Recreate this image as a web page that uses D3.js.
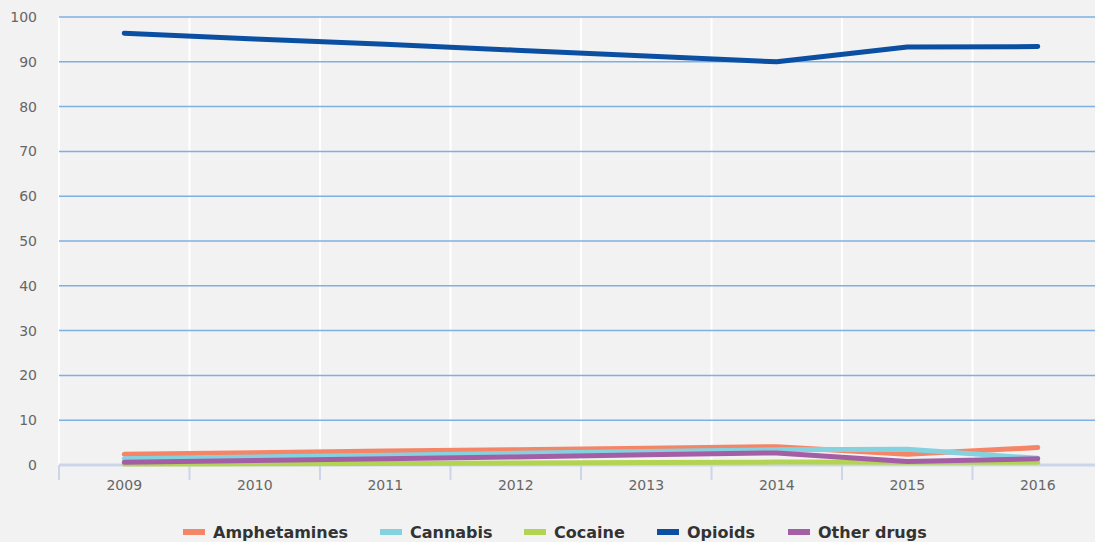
<!DOCTYPE html>
<html><head><meta charset="utf-8">
<script src="https://cdn.jsdelivr.net/npm/d3@7"></script>
<style>
html,body{margin:0;padding:0;background:#f2f2f2;}
svg{display:block;}
</style></head>
<body>
<svg id="chart" width="1095" height="542"></svg>
<script>
const years = ["2009","2010","2011","2012","2013","2014","2015","2016"];
const amphetamines = [2.4, 2.75, 3.1, 3.4, 3.75, 4.1, 2.4, 3.9];
const cannabis     = [1.4, 1.8, 2.2, 2.6, 3.0, 3.4, 3.5, 1.5];
const cocaine      = [0.2, 0.3, 0.35, 0.45, 0.55, 0.65, 0.6, 0.6];
const opioids      = [96.4, 95.1, 93.9, 92.6, 91.3, 90.0, 93.3, 93.4];
const otherDrugs   = [0.6, 1.0, 1.4, 1.8, 2.3, 2.7, 0.8, 1.4];
const yTicks = [0,10,20,30,40,50,60,70,80,90,100];
const seriesNames = ["Amphetamines","Cannabis","Cocaine","Opioids","Other drugs"];
const seriesColors = ["#f58567","#84d2e0","#b3d453","#0b4fa3","#a45ea6"];
const seriesValues = [amphetamines, cannabis, cocaine, opioids, otherDrugs];

const svg = d3.select("#chart");
const pLeft = 59, pRight = 1103, pTop = 17, pBottom = 465;

const x = d3.scaleBand().domain(years).range([pLeft, pRight]).padding(0);
const y = d3.scaleLinear().domain([0,100]).range([pBottom, pTop]);

// vertical white grid lines at band boundaries
const bounds = years.map(d => x(d)).concat([pRight]);
svg.append("g").selectAll("line").data(bounds).join("line")
  .attr("x1", d=>d).attr("x2", d=>d).attr("y1", pTop).attr("y2", pBottom)
  .attr("stroke", "#ffffff").attr("stroke-width", 2);

// horizontal gridlines
svg.append("g").selectAll("line").data(yTicks.filter(t=>t>0)).join("line")
  .attr("x1", pLeft).attr("x2", 1095).attr("y1", d=>y(d)).attr("y2", d=>y(d))
  .attr("stroke", "#7fb0e4").attr("stroke-width", 1.5);

// y axis labels
const yAxis = d3.axisLeft(y).tickValues(yTicks).tickSize(0).tickPadding(0);
const gy = svg.append("g").attr("transform", `translate(37,0)`).call(yAxis);
gy.select(".domain").remove();
gy.selectAll("text").attr("font-family","DejaVu Sans").attr("font-size",14).attr("fill","#666");

// baseline & ticks
svg.append("line").attr("x1", pLeft).attr("x2", 1095).attr("y1", y(0)).attr("y2", y(0))
  .attr("stroke", "#cbd6ea").attr("stroke-width", 3);
svg.append("g").selectAll("line").data(bounds).join("line")
  .attr("x1", d=>d).attr("x2", d=>d).attr("y1", y(0)).attr("y2", y(0)+15)
  .attr("stroke", "#cbd6ea").attr("stroke-width", 2);

// x axis labels
const xAxis = d3.axisBottom(x).tickSize(0).tickPadding(0);
const gx = svg.append("g").attr("transform", `translate(0,${pBottom+15})`).call(xAxis);
gx.select(".domain").remove();
gx.selectAll("text").attr("font-family","DejaVu Sans").attr("font-size",14).attr("fill","#666").attr("dy","0.71em");

// lines
const line = d3.line().x((d,i)=>x(years[i]) + x.bandwidth()/2).y(d=>y(d));
svg.append("g").selectAll("path").data(seriesValues).join("path")
  .attr("d", d=>line(d)).attr("fill","none")
  .attr("stroke",(d,i)=>seriesColors[i]).attr("stroke-width",5)
  .attr("stroke-linecap","round").attr("stroke-linejoin","round");

// legend
const legendX = [183, 380, 524, 657, 788];
const lg = svg.append("g");
seriesNames.forEach((n,i)=>{
  lg.append("rect").attr("x", legendX[i]).attr("y", 529).attr("width", 22).attr("height", 6).attr("fill", seriesColors[i]);
  lg.append("text").attr("x", legendX[i]+30).attr("y", 538).text(n)
    .attr("font-family","DejaVu Sans").attr("font-weight","bold").attr("font-size",16).attr("fill","#333");
});
</script>
</body></html>
